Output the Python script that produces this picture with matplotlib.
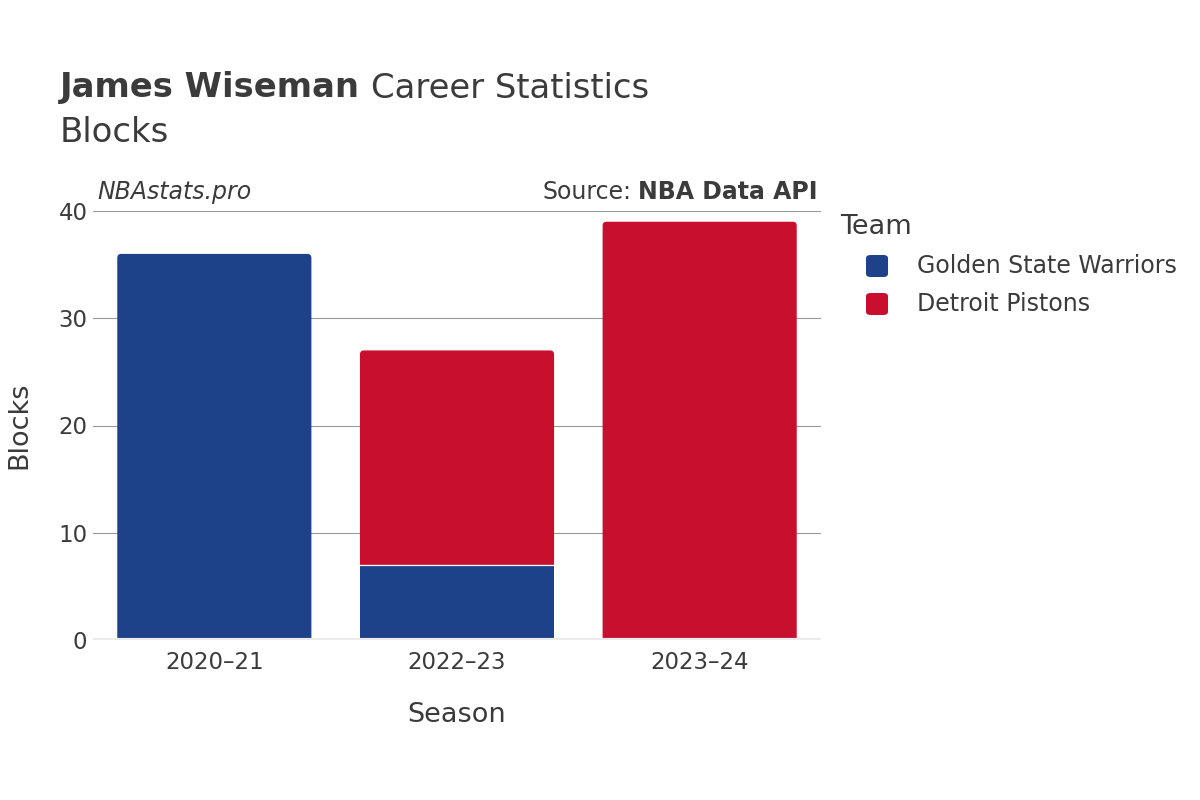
import matplotlib
matplotlib.use("Agg")
import matplotlib.pyplot as plt
from matplotlib.patches import FancyBboxPatch, PathPatch
from matplotlib.path import Path
import numpy as np

seasons = ["2020–21", "2022–23", "2023–24"]
teams = ["Golden State Warriors", "Detroit Pistons"]
gsw_blocks = [36, 7, 0]
det_blocks = [0, 20, 39]
team_colors = ["#1d428a", "#c8102e"]
yticks = [0, 10, 20, 30, 40]

plt.rcParams['font.family'] = ['DejaVu Sans']
TXT = "#3b3b3b"

fig = plt.figure(figsize=(12, 8), dpi=100)
ax = fig.add_axes([93/1200, 1-640/800, (821-93)/1200, (640-211)/800])

x = np.arange(len(seasons))
width = 0.8
series = [gsw_blocks, det_blocks]
totals = np.sum(np.array(series, dtype=float), axis=0)
bottom = np.zeros(len(seasons))
rx = 4/242.7   # corner radius in x data units
ry = 4/10.725  # corner radius in y data units
for vals, col in zip(series, team_colors):
    vals = np.array(vals, dtype=float)
    bars = ax.bar(x, vals, width, bottom=bottom, color=col, edgecolor="none", zorder=3)
    for i, rect in enumerate(bars.patches):
        h = rect.get_height()
        if h <= 0:
            continue
        x0, y0, w = rect.get_x(), rect.get_y(), rect.get_width()
        top = y0 + h
        if np.isclose(top, totals[i]) and h > 2*ry:
            rect.remove()
            verts = [(x0, y0), (x0+w, y0), (x0+w, top-ry), (x0+w, top), (x0+w-rx, top),
                     (x0+rx, top), (x0, top), (x0, top-ry), (x0, y0)]
            codes = [Path.MOVETO, Path.LINETO, Path.LINETO, Path.CURVE3, Path.CURVE3,
                     Path.LINETO, Path.CURVE3, Path.CURVE3, Path.CLOSEPOLY]
            ax.add_patch(PathPatch(Path(verts, codes), facecolor=col, edgecolor="none", zorder=3))
        if y0 > 0:
            ax.plot([x0, x0+w], [y0, y0], color="white", linewidth=0.9, zorder=3.5)
    bottom = bottom + vals

ax.set_xlim(-0.5, len(seasons)-0.5)
ax.set_ylim(0, 40)
ax.set_yticks(yticks)
ax.set_xticks(x)
ax.set_xticklabels(seasons)
ax.tick_params(axis='both', length=0, labelsize=16.5, colors=TXT, pad=8)
ax.tick_params(axis='y', pad=4)
ax.grid(axis='y', color="#999999", linewidth=0.8, zorder=0)
ax.axhline(0, color="#ebebeb", linewidth=3, zorder=4)
for s in ax.spines.values():
    s.set_visible(False)

ax.set_xlabel("Season", fontsize=19.5, color=TXT, labelpad=20)
ax.set_ylabel("Blocks", fontsize=19.5, color=TXT, labelpad=19)

# Title
fig.canvas.draw()
r = fig.canvas.get_renderer()
t1 = fig.text(60/1200, 1-88/800, "James Wiseman", fontsize=24.4, fontweight="bold", color=TXT, va="center", ha="left")
bb = t1.get_window_extent(renderer=r)
fig.text(bb.x1/1200 + 0.009, 1-88/800, "Career Statistics", fontsize=24.4, color=TXT, va="center", ha="left")
fig.text(60/1200, 1-132/800, "Blocks", fontsize=24.4, color=TXT, va="center", ha="left")

fig.text(97/1200, 1-192/800, "NBAstats.pro", fontsize=17, style="italic", color=TXT, va="center", ha="left")
t2 = fig.text(818/1200, 1-192/800, "NBA Data API", fontsize=17, fontweight="bold", color=TXT, va="center", ha="right")
bb2 = t2.get_window_extent(renderer=r)
fig.text(bb2.x0/1200 - 0.006, 1-192/800, "Source:", fontsize=17, color=TXT, va="center", ha="right")

# Legend
fig.text(840/1200, 1-227/800, "Team", fontsize=19.5, color=TXT, va="center", ha="left")
for i, (tm, col) in enumerate(zip(teams, team_colors)):
    yc = 266 + i*38
    p = FancyBboxPatch((866/1200, 1-(yc+11)/800), 22/1200, 22/800,
                       boxstyle="round,pad=0,rounding_size=0.004", transform=fig.transFigure,
                       facecolor=col, edgecolor="none")
    fig.patches.append(p)
    fig.text(917/1200, 1-yc/800, tm, fontsize=17, color=TXT, va="center", ha="left")

fig.savefig("out.png", dpi=100, facecolor="white")
